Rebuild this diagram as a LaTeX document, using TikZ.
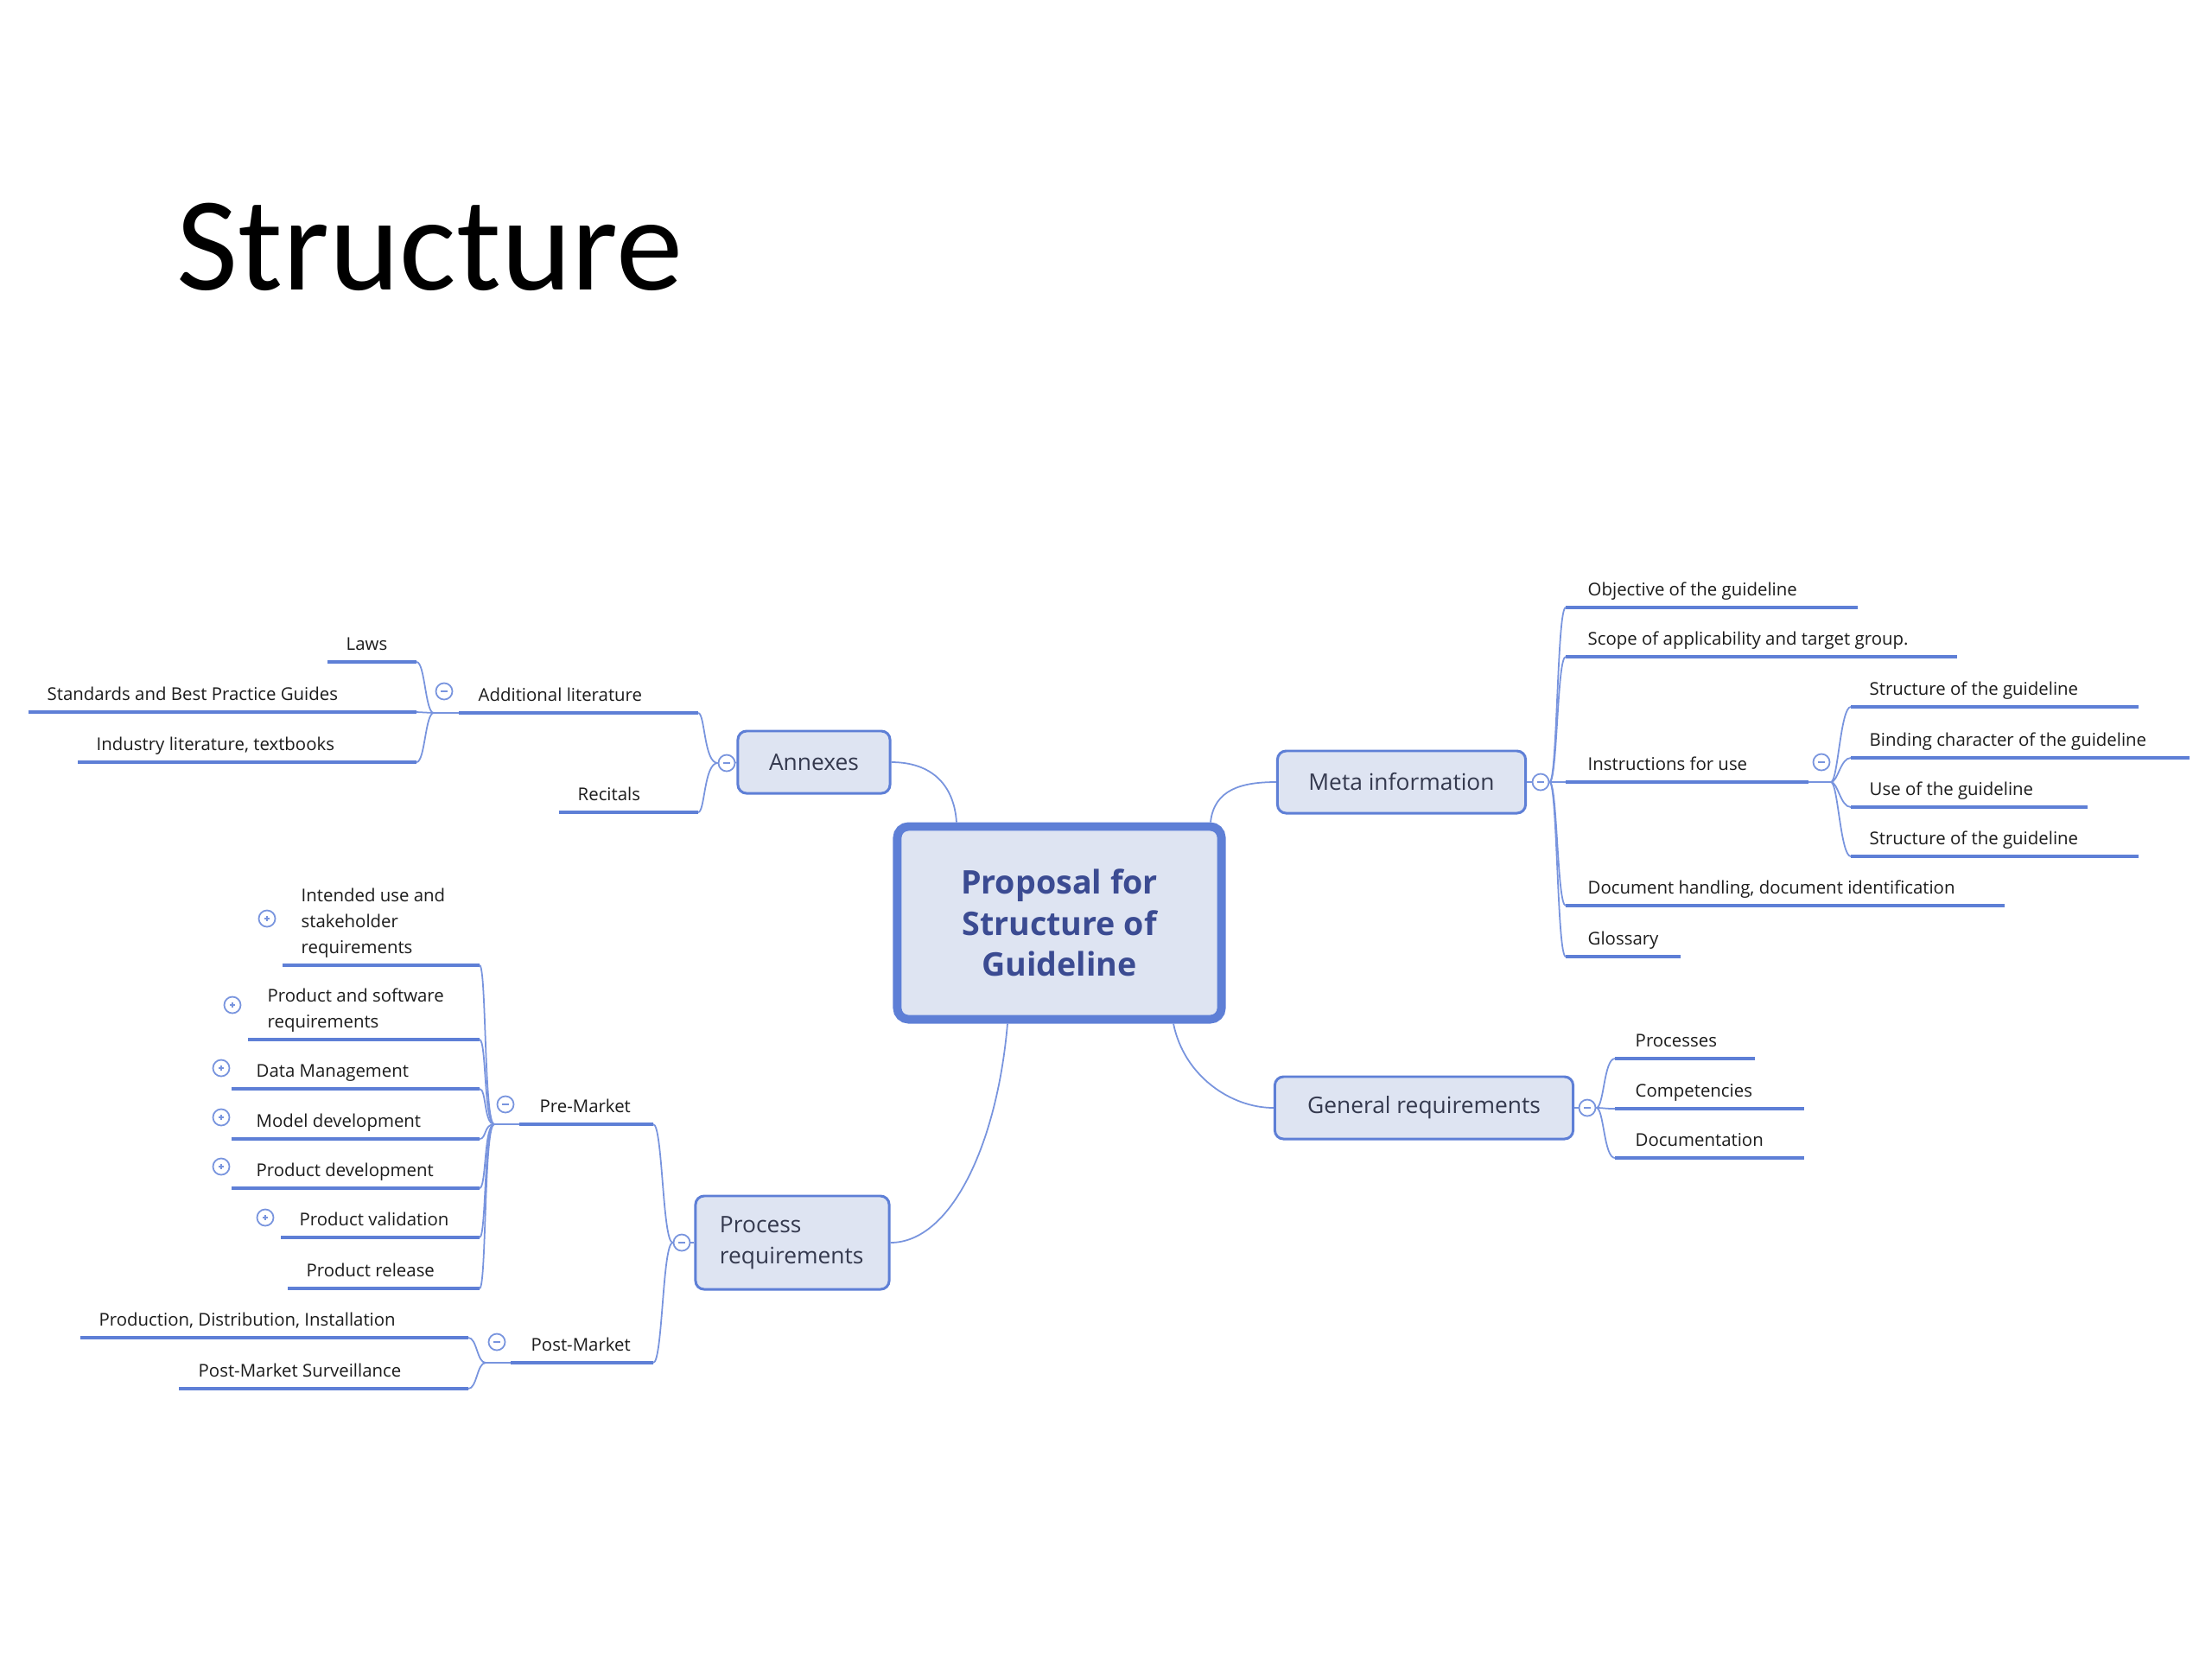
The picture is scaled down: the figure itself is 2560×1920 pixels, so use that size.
\documentclass[tikz,border=0pt]{standalone}
\usepackage{fontspec}
\setmainfont{Open Sans}
\newfontfamily\titlefont{Carlito}
\usetikzlibrary{calc}

\definecolor{mapblue}{RGB}{94,127,214}
\definecolor{twigblue}{RGB}{120,148,222}
\definecolor{boxfill}{RGB}{222,228,242}
\definecolor{coretext}{RGB}{59,75,146}
\definecolor{boxtext}{RGB}{52,57,78}
\definecolor{leaftext}{RGB}{28,28,28}

\begin{document}
\begin{tikzpicture}[
    x=0.01cm, y=-0.01cm,
    core/.style={rectangle, rounded corners=0.13cm, draw=mapblue, line width=2.8pt, fill=boxfill,
      minimum width=3.75cm, minimum height=2.23cm, align=center, text=coretext,
      font=\bfseries\fontsize{10.7}{13.5}\selectfont},
    topic/.style={rectangle, rounded corners=0.1cm, draw=mapblue, line width=0.85pt, fill=boxfill,
      minimum height=0.72cm, text=boxtext, font=\fontsize{7.5}{10.2}\selectfont},
    leaf/.style={anchor=base west, inner sep=0pt, align=left, text=leaftext,
      font=\fontsize{5.8}{8.4}\selectfont},
    uline/.style={draw=mapblue, line width=1.4pt},
    twig/.style={draw=twigblue, line width=0.5pt},
    knob/.style={circle, draw=twigblue, line width=0.5pt, fill=white, minimum size=0.19cm, inner sep=0pt},
    fold/.style={knob, path picture={\draw[twigblue, line width=0.5pt]
      ($(path picture bounding box.center)+(-4,0)$) -- +(8,0);}},
    unfold/.style={knob, path picture={\draw[twigblue, line width=0.5pt]
      ($(path picture bounding box.center)+(-3,0)$) -- +(6,0)
      ($(path picture bounding box.center)+(0,-3)$) -- +(0,6);}}
]
    \fill[white] (0,0) rectangle (2560,1920);
    \node[anchor=base west, inner sep=0pt, font=\titlefont\fontsize{44}{52}\selectfont] (title) at (204,335) {Structure};

    % central topic and main topics
    \node[core] (core) at (1226,1068) {Proposal for\\Structure of\\Guideline};
    \node[topic, minimum width=1.76cm] (annex) at (942,882) {Annexes};
    \node[topic, minimum width=2.87cm] (meta) at (1622,905) {Meta information};
    \node[topic, minimum width=3.45cm] (gen) at (1648,1282) {General requirements};
    \node[topic, minimum width=2.24cm, minimum height=1.08cm, align=left, text width=1.68cm,
      inner xsep=0.28cm] (proc) at (917,1438) {Process\\requirements};

    \draw[twig] (annex.east) .. controls +(45,0) and +(-3,-45) .. ($(core.north)+(-119,0)$);
    \draw[twig] ($(core.north)+(175,0)$) .. controls +(4,-38) and +(-40,0) .. (meta.west);
    \draw[twig] ($(core.south)+(132,0)$) .. controls +(12,60) and +(-50,0) .. (gen.west);
    \draw[twig] ($(core.south)+(-60,0)$) .. controls +(-12,140) and +(70,0) .. (proc.east);

    \node[fold] (annex-k) at (841,883) {};
    \node[fold] (meta-k) at (1783,905) {};
    \node[fold] (gen-k) at (1837,1282) {};
    \node[fold] (proc-k) at (789,1438) {};
    \draw[twig] (annex.west) -- (annex-k.east);
    \draw[twig] (meta.east) -- (meta-k.west);
    \draw[twig] (gen.east) -- (gen-k.west);
    \draw[twig] (proc.west) -- (proc-k.east);

    % Meta information
    \foreach \nm/\yy/\xe/\txt in {obj/703/2150/{Objective of the guideline},
        scope/760/2265/{Scope of applicability and target group.},
        instr/905/2093/{Instructions for use},
        doc/1048/2320/{Document handling, document identification},
        gloss/1107/1945/{Glossary}}{
      \coordinate (\nm-a) at (1812,\yy);
      \coordinate (\nm-b) at (\xe,\yy);
      \draw[uline] (\nm-a) -- (\nm-b);
      \node[leaf] (\nm) at (1837,\yy-14) {\txt};
      \draw[twig] (meta-k.east) .. controls +(9,0) and +(-10,0) .. (\nm-a);
    }
    \node[fold] (instr-k) at (2108,882) {};
    \coordinate (instr-j) at (2119,905);
    \draw[twig] (instr-b) -- (instr-j);
    \foreach \nm/\yy/\xe/\txt in {sone/818/2475/{Structure of the guideline},
        bind/877/2534/{Binding character of the guideline},
        use/934/2416/{Use of the guideline},
        stwo/991/2475/{Structure of the guideline}}{
      \coordinate (\nm-a) at (2142,\yy);
      \coordinate (\nm-b) at (\xe,\yy);
      \draw[uline] (\nm-a) -- (\nm-b);
      \node[leaf] (\nm) at (2163,\yy-14) {\txt};
      \draw[twig] (instr-j) .. controls +(8,0) and +(-12,0) .. (\nm-a);
    }

    % General requirements
    \foreach \nm/\yy/\xe/\txt in {procs/1225/2031/{Processes},
        comp/1283/2088/{Competencies},
        docu/1340/2088/{Documentation}}{
      \coordinate (\nm-a) at (1869,\yy);
      \coordinate (\nm-b) at (\xe,\yy);
      \draw[uline] (\nm-a) -- (\nm-b);
      \node[leaf] (\nm) at (1892,\yy-14) {\txt};
      \draw[twig] (gen-k.east) .. controls +(9,0) and +(-13,0) .. (\nm-a);
    }

    % Annexes
    \foreach \nm/\yy/\xe/\xt/\txt in {addlit/825/531/553/{Additional literature},
        recit/940/647/668/{Recitals}}{
      \coordinate (\nm-a) at (808,\yy);
      \coordinate (\nm-b) at (\xe,\yy);
      \draw[uline] (\nm-a) -- (\nm-b);
      \node[leaf] (\nm) at (\xt,\yy-14) {\txt};
      \draw[twig] (annex-k.west) .. controls +(-16,0) and +(8,0) .. (\nm-a);
    }
    \node[fold] (addlit-k) at (514,800) {};
    \coordinate (addlit-j) at (502,825);
    \draw[twig] (addlit-b) -- (addlit-j);
    \foreach \nm/\yy/\xe/\xt/\txt in {laws/766/379/400/{Laws},
        std/824/33/54/{Standards and Best Practice Guides},
        ind/882/90/111/{Industry literature, textbooks}}{
      \coordinate (\nm-a) at (482,\yy);
      \coordinate (\nm-b) at (\xe,\yy);
      \draw[uline] (\nm-a) -- (\nm-b);
      \node[leaf] (\nm) at (\xt,\yy-14) {\txt};
      \draw[twig] (addlit-j) .. controls +(-10,0) and +(10,0) .. (\nm-a);
    }

    % Process requirements
    \foreach \nm/\yy/\xe/\xt/\txt in {pre/1301/601/624/{Pre-Market},
        post/1577/591/614/{Post-Market}}{
      \coordinate (\nm-a) at (756,\yy);
      \coordinate (\nm-b) at (\xe,\yy);
      \draw[uline] (\nm-a) -- (\nm-b);
      \node[leaf] (\nm) at (\xt,\yy-14) {\txt};
      \draw[twig] (proc-k.west) .. controls +(-12,0) and +(11,0) .. (\nm-a);
    }
    \node[fold] (pre-k) at (585,1278) {};
    \node[fold] (post-k) at (575,1553) {};
    \coordinate (pre-j) at (572,1301);
    \coordinate (post-j) at (562,1577);
    \draw[twig] (pre-b) -- (pre-j);
    \draw[twig] (post-b) -- (post-j);

    \foreach \nm/\yy/\xe/\xt/\txt in {intended/1117/327/348/{Intended use and\\stakeholder\\requirements},
        prodsw/1203/287/309/{Product and software\\requirements},
        data/1260/268/296/{Data Management},
        model/1318/268/296/{Model development},
        proddev/1375/268/296/{Product development},
        valid/1432/325/346/{Product validation},
        release/1491/333/354/{Product release}}{
      \coordinate (\nm-a) at (555,\yy);
      \coordinate (\nm-b) at (\xe,\yy);
      \draw[uline] (\nm-a) -- (\nm-b);
      \node[leaf] (\nm) at (\xt,\yy-14) {\txt};
      \draw[twig] (pre-j) .. controls +(-12,0) and +(8,0) .. (\nm-a);
    }
    \foreach \nm/\xx/\yy in {intended/309/1063, prodsw/269/1163, data/256/1236,
        model/256/1293, proddev/256/1350, valid/307/1409}
      \node[unfold] (\nm-k) at (\xx,\yy) {};

    \foreach \nm/\yy/\xe/\xt/\txt in {pdi/1548/93/114/{Production, Distribution, Installation},
        pms/1607/207/229/{Post-Market Surveillance}}{
      \coordinate (\nm-a) at (542,\yy);
      \coordinate (\nm-b) at (\xe,\yy);
      \draw[uline] (\nm-a) -- (\nm-b);
      \node[leaf] (\nm) at (\xt,\yy-14) {\txt};
      \draw[twig] (post-j) .. controls +(-10,0) and +(10,0) .. (\nm-a);
    }
\end{tikzpicture}
\end{document}
